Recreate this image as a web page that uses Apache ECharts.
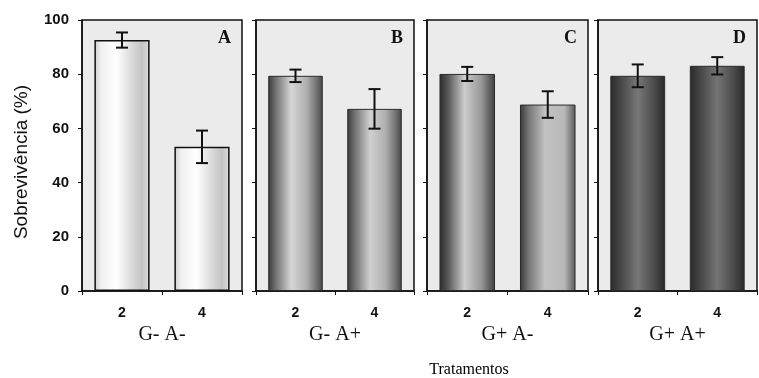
<!DOCTYPE html>
<html>
<head>
<meta charset="utf-8">
<script src="https://cdn.jsdelivr.net/npm/echarts@6/dist/echarts.min.js"></script>
<style>
  html, body { margin: 0; padding: 0; background: #ffffff; }
  #chart { width: 759px; height: 378px; }
</style>
</head>
<body>
<div id="chart"></div>
<script>
// Survival (%) after 2 and 4 (x labels) for four treatments, mean ± error
const categories = ['2', '4'];
const groupNames = ['G- A-', 'G- A+', 'G+ A-', 'G+ A+'];
const panelLetters = ['A', 'B', 'C', 'D'];
const yMin = 0, yMax = 100, yStep = 20;

const survivalGmAm = [92.6, 53.2];
const errorGmAm = [2.8, 6.0];
const survivalGmAp = [79.4, 67.2];
const errorGmAp = [2.3, 7.3];
const survivalGpAm = [80.1, 68.8];
const errorGpAm = [2.6, 4.9];
const survivalGpAp = [79.4, 83.1];
const errorGpAp = [4.2, 3.2];

const survival = [survivalGmAm, survivalGmAp, survivalGpAm, survivalGpAp];
const errors = [errorGmAm, errorGmAp, errorGpAm, errorGpAp];

// panel frames (px)
const panels = [
  { left: 82, width: 160 },
  { left: 256, width: 158 },
  { left: 427, width: 161 },
  { left: 598, width: 159 }
];
const gridTop = 20, gridHeight = 271;

function grad(stops) {
  return new echarts.graphic.LinearGradient(0, 0, 1, 0,
    stops.map(s => ({ offset: s[0], color: s[1] })));
}
// horizontal shading of each bar, per panel and bar
const barFills = [
  [
    grad([[0, '#cdcdcd'], [0.12, '#f0f0f0'], [0.4, '#ffffff'], [0.68, '#dadada'], [0.86, '#c4c4c4'], [1, '#dcdcdc']]),
    grad([[0, '#cdcdcd'], [0.12, '#f0f0f0'], [0.4, '#ffffff'], [0.68, '#dadada'], [0.86, '#c4c4c4'], [1, '#dcdcdc']])
  ],
  [
    grad([[0, '#3a3a3a'], [0.12, '#6a6a6a'], [0.42, '#d6d6d6'], [0.7, '#b0b0b0'], [0.9, '#6e6e6e'], [1, '#444444']]),
    grad([[0, '#3a3a3a'], [0.12, '#6a6a6a'], [0.42, '#d0d0d0'], [0.7, '#b0b0b0'], [0.9, '#6e6e6e'], [1, '#444444']])
  ],
  [
    grad([[0, '#2c2c2c'], [0.15, '#555555'], [0.45, '#cccccc'], [0.75, '#989898'], [1, '#3e3e3e']]),
    grad([[0, '#383838'], [0.15, '#747474'], [0.45, '#c2c2c2'], [0.8, '#b8b8b8'], [1, '#585858']])
  ],
  [
    grad([[0, '#2a2a2a'], [0.2, '#484848'], [0.5, '#777777'], [0.8, '#4c4c4c'], [1, '#282828']]),
    grad([[0, '#2a2a2a'], [0.2, '#484848'], [0.5, '#747474'], [0.8, '#4a4a4a'], [1, '#282828']])
  ]
];

const tickFont = { fontFamily: 'Liberation Sans', fontWeight: 'bold', fontSize: 14, color: '#111' };

const grid = [], xAxis = [], yAxis = [], series = [], graphic = [];

panels.forEach((p, i) => {
  grid.push({
    left: p.left, top: gridTop, width: p.width, height: gridHeight,
    show: true, backgroundColor: '#ebebeb', borderColor: '#111', borderWidth: 1.5
  });
  xAxis.push({
    type: 'category', gridIndex: i, data: categories,
    axisLine: { show: true, lineStyle: { color: '#111', width: 1.5 } },
    axisTick: { show: true, length: 4, alignWithLabel: false, lineStyle: { color: '#111', width: 1 } },
    axisLabel: Object.assign({ margin: 15 }, tickFont),
    splitLine: { show: false }
  });
  yAxis.push({
    type: 'value', gridIndex: i, min: yMin, max: yMax, interval: yStep,
    axisLine: { show: true, lineStyle: { color: '#111', width: 1.5 } },
    axisTick: { show: true, length: 4, lineStyle: { color: '#111', width: 1 } },
    axisLabel: Object.assign({ show: i === 0, margin: 13 }, tickFont, { fontSize: 15 }),
    splitLine: { show: false }
  });
  series.push({
    type: 'bar', xAxisIndex: i, yAxisIndex: i, barWidth: '69%',
    data: survival[i].map((v, k) => ({
      value: v,
      itemStyle: { color: barFills[i][k], borderColor: i === 0 ? '#111' : '#2a2a2a', borderWidth: i === 0 ? 1.5 : 1 }
    })),
    z: 2
  });
  series.push({
    type: 'custom', xAxisIndex: i, yAxisIndex: i, z: 5,
    data: survival[i].map((v, k) => [k, v, errors[i][k]]),
    renderItem: function (params, api) {
      const x = api.value(0), m = api.value(1), e = api.value(2);
      const hi = api.coord([x, m + e]);
      const lo = api.coord([x, m - e]);
      const cap = 6;
      const style = { stroke: '#111', lineWidth: 2 };
      return {
        type: 'group',
        children: [
          { type: 'line', shape: { x1: hi[0], y1: hi[1], x2: lo[0], y2: lo[1] }, style: style },
          { type: 'line', shape: { x1: hi[0] - cap, y1: hi[1], x2: hi[0] + cap, y2: hi[1] }, style: style },
          { type: 'line', shape: { x1: lo[0] - cap, y1: lo[1], x2: lo[0] + cap, y2: lo[1] }, style: style }
        ]
      };
    }
  });
  // panel letter
  graphic.push({
    type: 'text', x: p.left + p.width - 11, y: 38, z: 10,
    style: { text: panelLetters[i], font: 'bold 18px "Liberation Serif"', fill: '#111', align: 'right', verticalAlign: 'middle' }
  });
  // treatment name under each panel
  graphic.push({
    type: 'text', x: p.left + p.width / 2, y: 335, z: 10,
    style: { text: groupNames[i], font: '20px "Liberation Serif"', fill: '#111', align: 'center', verticalAlign: 'middle' }
  });
});

graphic.push({
  type: 'text', x: 469, y: 370, z: 10,
  style: { text: 'Tratamentos', font: '16px "Liberation Serif"', fill: '#000', align: 'center', verticalAlign: 'middle' }
});
graphic.push({
  type: 'text', x: 22, y: 162, rotation: Math.PI / 2, z: 10,
  style: { text: 'Sobrevivência (%)', font: '19px "Liberation Sans"', fill: '#111', align: 'center', verticalAlign: 'middle' }
});

const chart = echarts.init(document.getElementById('chart'), null, { renderer: 'canvas' });
chart.setOption({
  animation: false,
  backgroundColor: '#ffffff',
  grid: grid,
  xAxis: xAxis,
  yAxis: yAxis,
  series: series,
  graphic: graphic
});
</script>
</body>
</html>
